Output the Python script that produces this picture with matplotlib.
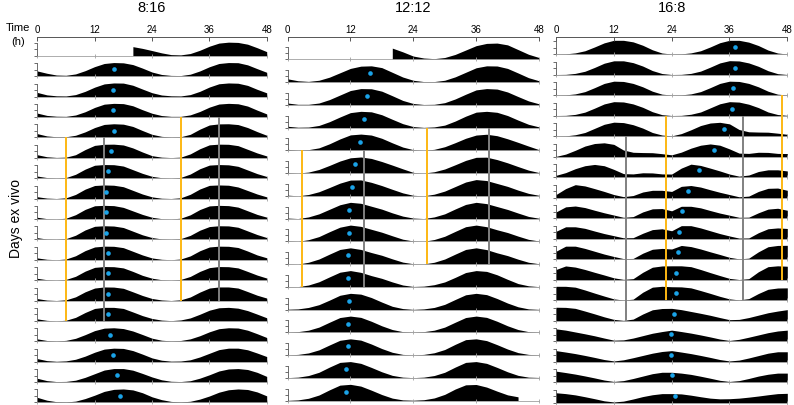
import numpy as np
import matplotlib.pyplot as plt

nan = np.nan

# bioluminescence traces, 0-10 scale, one list per day, sampled every 2 h (0..22 h)
lum_8_16 = [
    [nan, nan, nan, nan, nan, nan, nan, nan, nan, nan, 6.7, 5.4],
    [3.8, 2.1, 0.8, 0.6, 1.6, 4.0, 7.0, 9.3, 10, 9.8, 8.5, 5.9],
    [3.0, 1.2, 0.5, 0.4, 1.4, 3.8, 6.9, 9.3, 10, 9.9, 8.3, 5.5],
    [2.8, 1.1, 0.5, 0.4, 1.4, 3.8, 7.0, 9.4, 10, 9.8, 8.2, 5.3],
    [2.7, 1.0, 0.4, 0.4, 1.5, 4.0, 7.2, 9.5, 10, 9.7, 8.0, 5.0],
    [2.2, 0.7, 0.2, 0.4, 2.2, 6.0, 9.1, 9.9, 10, 9.4, 7.2, 4.2],
    [1.5, 0.4, 0.1, 0.4, 2.8, 6.6, 9.5, 10, 9.9, 8.9, 6.2, 3.5],
    [1.3, 0.3, 0.0, 0.5, 3.0, 6.9, 9.6, 10, 9.8, 8.7, 6.0, 3.3],
    [1.2, 0.2, 0.0, 0.5, 3.1, 7.0, 9.7, 10, 9.8, 8.5, 5.9, 3.3],
    [1.2, 0.2, 0.0, 0.5, 3.0, 6.9, 9.6, 10, 9.8, 8.7, 6.0, 3.3],
    [1.3, 0.3, 0.0, 0.5, 2.9, 6.7, 9.4, 10, 9.9, 8.9, 6.2, 3.5],
    [1.3, 0.3, 0.0, 0.5, 2.8, 6.6, 9.4, 10, 9.9, 9.0, 6.4, 3.5],
    [1.4, 0.3, 0.0, 0.5, 2.7, 6.4, 9.2, 10, 9.9, 9.0, 6.4, 3.7],
    [1.5, 0.4, 0.0, 0.5, 2.6, 6.2, 9.2, 10, 10, 9.2, 6.6, 3.9],
    [1.8, 0.6, 0.2, 0.7, 2.2, 4.9, 7.9, 9.7, 10, 9.4, 7.6, 5.0],
    [2.3, 0.8, 0.3, 0.6, 1.8, 4.1, 7.0, 9.3, 10, 9.8, 8.2, 5.6],
    [2.8, 1.1, 0.4, 0.5, 1.4, 3.5, 6.2, 8.9, 10, 10, 8.8, 6.4],
    [3.8, 1.7, 0.6, 0.4, 1.0, 2.9, 5.4, 8.2, 9.7, 10, 9.3, 7.2],
    [4.2, 2.1, 0.8, 0.4, 0.9, 2.5, 4.8, 7.6, 9.4, 10, 9.6, 7.8],
    [4.9],
]

lum_12_12 = [
    [nan, nan, nan, nan, nan, nan, nan, nan, nan, nan, 6.9, 4.6],
    [2.0, 0.8, 0.4, 1.1, 3.0, 5.7, 8.4, 9.8, 10, 8.9, 6.0, 3.1],
    [1.1, 0.3, 0.3, 1.1, 3.2, 6.0, 8.8, 10, 9.9, 8.4, 5.6, 2.7],
    [0.8, 0.2, 0.3, 1.3, 3.6, 6.5, 9.2, 10, 9.7, 7.9, 5.1, 2.4],
    [0.6, 0.1, 0.4, 1.5, 4.0, 7.0, 9.5, 10, 9.4, 7.4, 4.6, 2.0],
    [0.4, 0.0, 0.6, 2.2, 4.7, 7.4, 9.4, 9.9, 9.0, 7.1, 4.9, 2.6],
    [0.4, 0.0, 0.8, 2.5, 5.1, 7.8, 9.7, 9.8, 8.3, 6.3, 4.0, 1.8],
    [0.3, 0.0, 1.0, 2.9, 5.7, 8.5, 10, 9.4, 7.6, 5.8, 3.5, 1.5],
    [0.3, 0.0, 1.0, 2.9, 5.9, 8.7, 10, 9.2, 7.4, 5.6, 3.4, 1.3],
    [0.2, 0.0, 1.1, 3.1, 6.1, 9.0, 10, 9.0, 7.1, 5.4, 3.2, 1.2],
    [0.2, 0.1, 1.1, 3.1, 6.1, 9.0, 10, 8.9, 6.9, 5.2, 3.0, 1.1],
    [0.2, 0.4, 1.3, 3.0, 5.8, 8.8, 10, 9.5, 7.4, 4.6, 2.0, 0.6],
    [0.1, 0.4, 1.3, 3.2, 6.2, 9.1, 10, 9.2, 6.8, 4.0, 1.7, 0.4],
    [0.1, 0.4, 1.3, 3.2, 6.2, 9.1, 10, 9.2, 6.8, 4.0, 1.7, 0.4],
    [0.1, 0.4, 1.4, 3.4, 6.6, 9.5, 10, 8.9, 6.4, 3.7, 1.5, 0.4],
    [0.1, 0.4, 1.4, 3.4, 6.6, 9.5, 10, 8.9, 6.4, 3.7, 1.5, 0.4],
    [0.2, 0.5, 1.6, 3.8, 7.1, 9.7, 9.9, 8.3, 5.8, 3.5, 2.3, nan],
    [nan],
]

lum_16_8 = [
    [0.2, 0.3, 1.0, 2.5, 5.2, 8.1, 9.9, 9.9, 8.8, 6.4, 3.2, 0.9],
    [0.2, 0.3, 1.0, 2.5, 5.2, 8.2, 9.9, 9.9, 8.6, 6.2, 3.0, 0.9],
    [0.2, 0.3, 1.0, 2.6, 5.4, 8.4, 10, 9.8, 8.4, 6.0, 2.9, 0.8],
    [0.2, 0.3, 1.0, 2.6, 5.4, 8.4, 10, 9.8, 8.4, 6.0, 2.9, 0.8],
    [0.2, 0.3, 1.1, 2.7, 5.6, 8.5, 10, 9.7, 8.2, 5.8, 2.7, 0.9],
    [0.3, 1.9, 4.6, 7.6, 9.4, 9.9, 8.8, 4.8, 3.2, 3.0, 2.9, 2.2],
    [1.4, 3.3, 6.1, 8.2, 9.1, 8.2, 5.6, 2.6, 2.4, 3.2, 3.1, 2.4],
    [2.3, 6.5, 9.3, 8.4, 6.5, 4.5, 2.3, 0.8, 1.6, 4.1, 5.3, 5.3],
    [4.5, 8.1, 8.7, 7.6, 5.7, 3.9, 2.3, 0.7, 1.2, 4.5, 6.7, 6.9],
    [5.3, 8.5, 8.5, 7.4, 5.5, 3.7, 2.2, 0.7, 0.8, 3.9, 6.5, 7.1],
    [5.7, 9.3, 9.3, 7.7, 5.7, 3.7, 2.0, 0.5, 0.6, 4.3, 7.1, 7.7],
    [7.3, 9.8, 9.0, 7.3, 5.3, 3.4, 1.4, 0.3, 0.8, 5.3, 8.9, 9.8],
    [9.9, 9.9, 9.3, 7.3, 5.1, 3.0, 1.0, 0.2, 0.8, 5.7, 9.3, 9.9],
    [9.6, 9.5, 8.8, 6.9, 4.9, 2.8, 1.0, 0.3, 1.2, 4.8, 7.8, 8.7],
    [8.8, 7.9, 6.6, 5.3, 3.9, 2.3, 0.8, 1.0, 2.3, 4.0, 5.7, 6.9],
    [7.9, 6.9, 5.8, 4.5, 3.1, 1.6, 0.6, 1.4, 2.9, 4.5, 6.1, 7.3],
    [7.9, 6.9, 5.8, 4.5, 3.1, 1.6, 0.6, 1.2, 2.7, 4.4, 6.1, 7.1],
    [7.1, 6.5, 5.6, 4.3, 2.9, 1.4, 0.6, 1.2, 2.7, 4.4, 5.7, 6.5],
    [6.5, 6.3, 5.4, 4.3, 3.3, 2.8, 2.9, 3.3, 4.0, 4.8, 5.7, 6.5],
    [6.7],
]

# peak phase markers (row number, time in h on the 0-48 axis)
peak_rows_8_16 = list(range(2, 19))
peak_times_8_16 = [16.1, 15.9, 15.9, 16.0, 15.4, 14.8, 14.4, 14.3, 14.4,
                   14.7, 14.8, 14.8, 14.8, 15.2, 15.9, 16.6, 17.3]
peak_rows_12_12 = list(range(2, 17))
peak_times_12_12 = [15.7, 15.1, 14.6, 13.9, 12.9, 12.3, 11.7, 11.7, 11.5,
                    11.5, 11.8, 11.5, 11.5, 11.2, 11.2]
peak_rows_16_8 = list(range(1, 19))
peak_times_16_8 = [37.1, 37.1, 36.7, 36.6, 34.8, 32.7, 29.6, 27.3, 26.1,
                   25.6, 25.3, 24.8, 24.8, 24.4, 23.9, 23.9, 24.0, 24.7]

# marker lines: (time h, first row, last row, colour)
marks_8_16 = [(6.0, 6, 14, 'y'), (30.0, 5, 13, 'y'), (14.0, 6, 14, 'g'), (38.0, 5, 13, 'g')]
marks_12_12 = [(2.8, 6, 11, 'y'), (26.7, 5, 10, 'y'), (14.6, 6, 11, 'g'), (38.4, 5, 10, 'g')]
marks_16_8 = [(22.8, 5, 13, 'y'), (46.8, 4, 12, 'y'), (14.6, 6, 14, 'g'), (38.8, 5, 13, 'g')]

titles = ['8:16', '12:12', '16:8']
hours = np.arange(0, 24, 2)

YELLOW = '#FDB813'
GREY = '#808080'
BLUE = '#1AA3E8'

plt.rcParams['font.family'] = ['Liberation Sans', 'DejaVu Sans']

W, H = 794, 405
fig = plt.figure(figsize=(W / 100, H / 100), dpi=100)


def add_px_axes(x0, ytop, w, h):
    return fig.add_axes([x0 / W, 1 - (ytop + h) / H, w / W, h / H])


# panel geometry in pixels: x of 0 h, x of 48 h, first baseline, row step, spine height, data value at spine top, dot offset
panels = [
    (lum_8_16, peak_rows_8_16, peak_times_8_16, marks_8_16, 37.3, 266.7, 55.7, 20.4, 13.0, 9.6, 0.33),
    (lum_12_12, peak_rows_12_12, peak_times_12_12, marks_12_12, 287.5, 539.0, 59.3, 22.75, 12.0, 7.4, 0.38),
    (lum_16_8, peak_rows_16_8, peak_times_16_8, marks_16_8, 556.0, 787.3, 54.3, 20.5, 13.0, 9.2, 0.34),
]

for p, (days, prow, ptime, marks, x0, x1, base1, step, sp_h, ytop, dot_off) in enumerate(panels):
    w = x1 - x0
    nrows = len(days) - 2

    for k in range(1, nrows + 1):
        x = np.concatenate([hours, hours + 24, [48]])
        y = np.concatenate([days[k - 1], days[k], [days[k + 1][0]]])
        base = base1 + (k - 1) * step
        ax = add_px_axes(x0, base - sp_h, w, sp_h)
        ax.fill_between(x, 0, y, color='black', lw=0, clip_on=False)
        ax.set_xlim(0, 48)
        ax.set_ylim(0, ytop)
        ax.patch.set_alpha(0)
        ax.spines['top'].set_visible(False)
        ax.spines['right'].set_visible(False)
        ax.spines['left'].set_color('#555555')
        ax.spines['left'].set_linewidth(0.6)
        ax.spines['bottom'].set_color('#a0a0a0')
        ax.spines['bottom'].set_linewidth(0.6)
        ax.set_xticks([0, 12, 24, 36, 48])
        ax.set_yticks([0, ytop / 2, ytop])
        ax.tick_params(axis='x', direction='inout', length=3, width=0.6, color='#a0a0a0', labelbottom=False)
        ax.tick_params(axis='y', direction='out', length=2, width=0.6, color='#555555', labelleft=False)

    # time axis on top
    tax = add_px_axes(x0, 37.3, w, 6)
    tax.set_xlim(0, 48)
    tax.patch.set_alpha(0)
    for s in ['bottom', 'left', 'right']:
        tax.spines[s].set_visible(False)
    tax.spines['top'].set_color('#555555')
    tax.spines['top'].set_linewidth(0.7)
    tax.set_yticks([])
    tax.xaxis.tick_top()
    tax.set_xticks([0, 12, 24, 36, 48])
    tax.tick_params(axis='x', direction='in', length=3, width=0.7, color='#555555',
                    labelsize=7, pad=2)
    tax.set_title(titles[p], fontsize=10.5, pad=18)

    # overlay for phase markers and lines, y in row units
    ov = add_px_axes(x0, base1 - step, w, nrows * step)
    ov.set_xlim(0, 48)
    ov.set_ylim(nrows, 0)
    ov.axis('off')
    ov.set_zorder(5)
    for t, r0, r1, c in marks:
        ov.vlines(t, r0 - 1, r1, color=YELLOW if c == 'y' else GREY, lw=1.4)
    ov.scatter(ptime, np.array(prow) - dot_off, s=11, color=BLUE, lw=0, zorder=6)

fig.text(18 / W, 1 - 28 / H, 'Time', ha='center', va='center', fontsize=8)
fig.text(18 / W, 1 - 42 / H, '(h)', ha='center', va='center', fontsize=8)
fig.text(16 / W, 1 - 218 / H, 'Days ex vivo', ha='center', va='center', rotation=90, fontsize=10)

fig.savefig('out.png', dpi=100)
